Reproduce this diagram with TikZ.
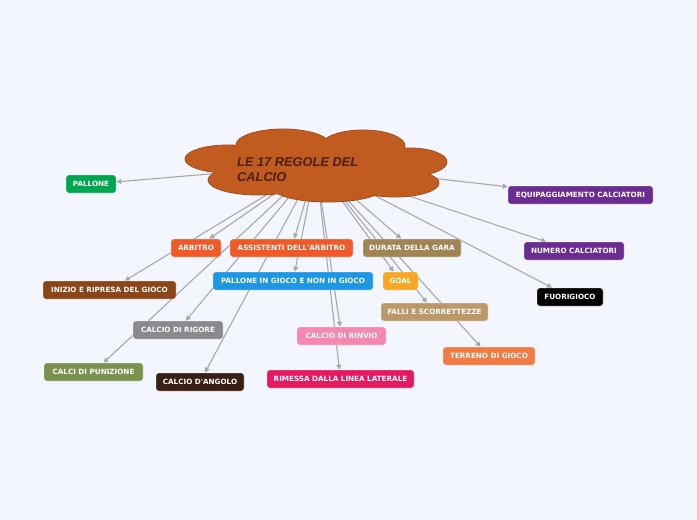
\documentclass[tikz,border=0pt]{standalone}
\usepackage{fontspec}
\newfontfamily\dejavu{DejaVu Sans}
\newfontfamily\libsans{Liberation Sans}
\usetikzlibrary{arrows.meta,backgrounds}
\definecolor{bgc}{HTML}{F3F6FE}
\definecolor{cloudfill}{HTML}{C15B20}
\definecolor{cloudline}{HTML}{9B4617}
\definecolor{titletext}{HTML}{4A1F08}
\definecolor{linegray}{HTML}{A8A8A8}
\definecolor{cgreen}{HTML}{00A54F}
\definecolor{cpurple}{HTML}{6A2C91}
\definecolor{corangered}{HTML}{F05A28}
\definecolor{ctan}{HTML}{A08456}
\definecolor{cbrown}{HTML}{8C4519}
\definecolor{cblue}{HTML}{1D97E3}
\definecolor{cgold}{HTML}{F9A720}
\definecolor{cblack}{HTML}{000000}
\definecolor{clighttan}{HTML}{BC9868}
\definecolor{cgray}{HTML}{8A898D}
\definecolor{cpink}{HTML}{F488B0}
\definecolor{corange}{HTML}{F27A43}
\definecolor{colive}{HTML}{7A9250}
\definecolor{cdarkbrown}{HTML}{3A2014}
\definecolor{cmagenta}{HTML}{E6185F}
\tikzset{
  topic/.style={rounded corners=3pt, minimum height=18pt, inner sep=0pt,
    text=white, font=\dejavu\bfseries\fontsize{7.2}{8}\selectfont,
    fill=#1, draw=white, draw opacity=0.35, line width=0.6pt},
  conn/.style={draw=linegray, line width=1.1pt, -{Triangle[length=5pt,width=5pt]}},
  lobe/.style={fill=cloudfill, draw=cloudline, line width=0.8pt},
  lobefill/.style={fill=cloudfill}
}
\begin{document}
\begin{tikzpicture}[x=1pt,y=-1pt]
\useasboundingbox (0,0) rectangle (697,520);
\coordinate (hub) at (316,165);
% topic nodes
\node[topic=cgreen, minimum width=50pt] (pallone) at (91,184) {PALLONE};
\node[topic=cpurple, minimum width=145pt] (equip) at (580.5,195) {EQUIPAGGIAMENTO CALCIATORI};
\node[topic=corangered, minimum width=50pt] (arbitro) at (196,248) {ARBITRO};
\node[topic=corangered, minimum width=123pt] (assist) at (291.5,248) {ASSISTENTI DELL'ARBITRO};
\node[topic=ctan, minimum width=98pt] (durata) at (412,248) {DURATA DELLA GARA};
\node[topic=cpurple, minimum width=100pt] (numero) at (574,251) {NUMERO CALCIATORI};
\node[topic=cbrown, minimum width=133pt] (inizio) at (109.5,290) {INIZIO E RIPRESA DEL GIOCO};
\node[topic=cblue, minimum width=160pt] (pingioco) at (293,281) {PALLONE IN GIOCO E NON IN GIOCO};
\node[topic=cgold, minimum width=35pt] (goal) at (400.5,281) {GOAL};
\node[topic=cblack, minimum width=66pt] (fuori) at (570,297) {FUORIGIOCO};
\node[topic=clighttan, minimum width=107pt] (falli) at (434.5,312) {FALLI E SCORRETTEZZE};
\node[topic=cgray, minimum width=90pt] (rigore) at (178,330) {CALCIO DI RIGORE};
\node[topic=cpink, minimum width=89pt] (rinvio) at (341.5,336) {CALCIO DI RINVIO};
\node[topic=corange, minimum width=92pt] (terreno) at (489,356) {TERRENO DI GIOCO};
\node[topic=colive, minimum width=99pt] (punizione) at (93.5,372) {CALCI DI PUNIZIONE};
\node[topic=cdarkbrown, minimum width=88pt] (angolo) at (200,382) {CALCIO D'ANGOLO};
\node[topic=cmagenta, minimum width=147pt] (rimessa) at (340.5,379) {RIMESSA DALLA LINEA LATERALE};
% background and connectors
\begin{pgfonlayer}{background}
\fill[bgc] (0,0) rectangle (697,520);
\foreach \t in {pallone,equip,arbitro,assist,durata,numero,inizio,pingioco,goal,fuori,falli,rigore,rinvio,terreno,punizione,angolo,rimessa}
  \draw[conn] (hub) -- (\t);
\end{pgfonlayer}
% cloud
\foreach \cx/\cy/\rx/\ry in {283/145/47/16, 363/146/42/16, 410/162/37/14, 395/183/44/14, 328/188/55/14, 258/180/50/15, 228/159/43/14}
  \draw[lobe] (\cx,\cy) ellipse [x radius=\rx pt, y radius=\ry pt];
\foreach \cx/\cy/\rx/\ry in {283/145/47/16, 363/146/42/16, 410/162/37/14, 395/183/44/14, 328/188/55/14, 258/180/50/15, 228/159/43/14}
  \fill[lobefill] (\cx,\cy) ellipse [x radius=\rx pt-0.4pt, y radius=\ry pt-0.4pt];
\fill[lobefill] (318,166) ellipse [x radius=100pt, y radius=24pt];
\node[anchor=west, align=left, inner sep=0pt, text=titletext,
  font=\libsans\bfseries\itshape\fontsize{12.8}{15}\selectfont] (title) at (237,170)
  {LE 17 REGOLE DEL\\CALCIO};
\end{tikzpicture}
\end{document}
